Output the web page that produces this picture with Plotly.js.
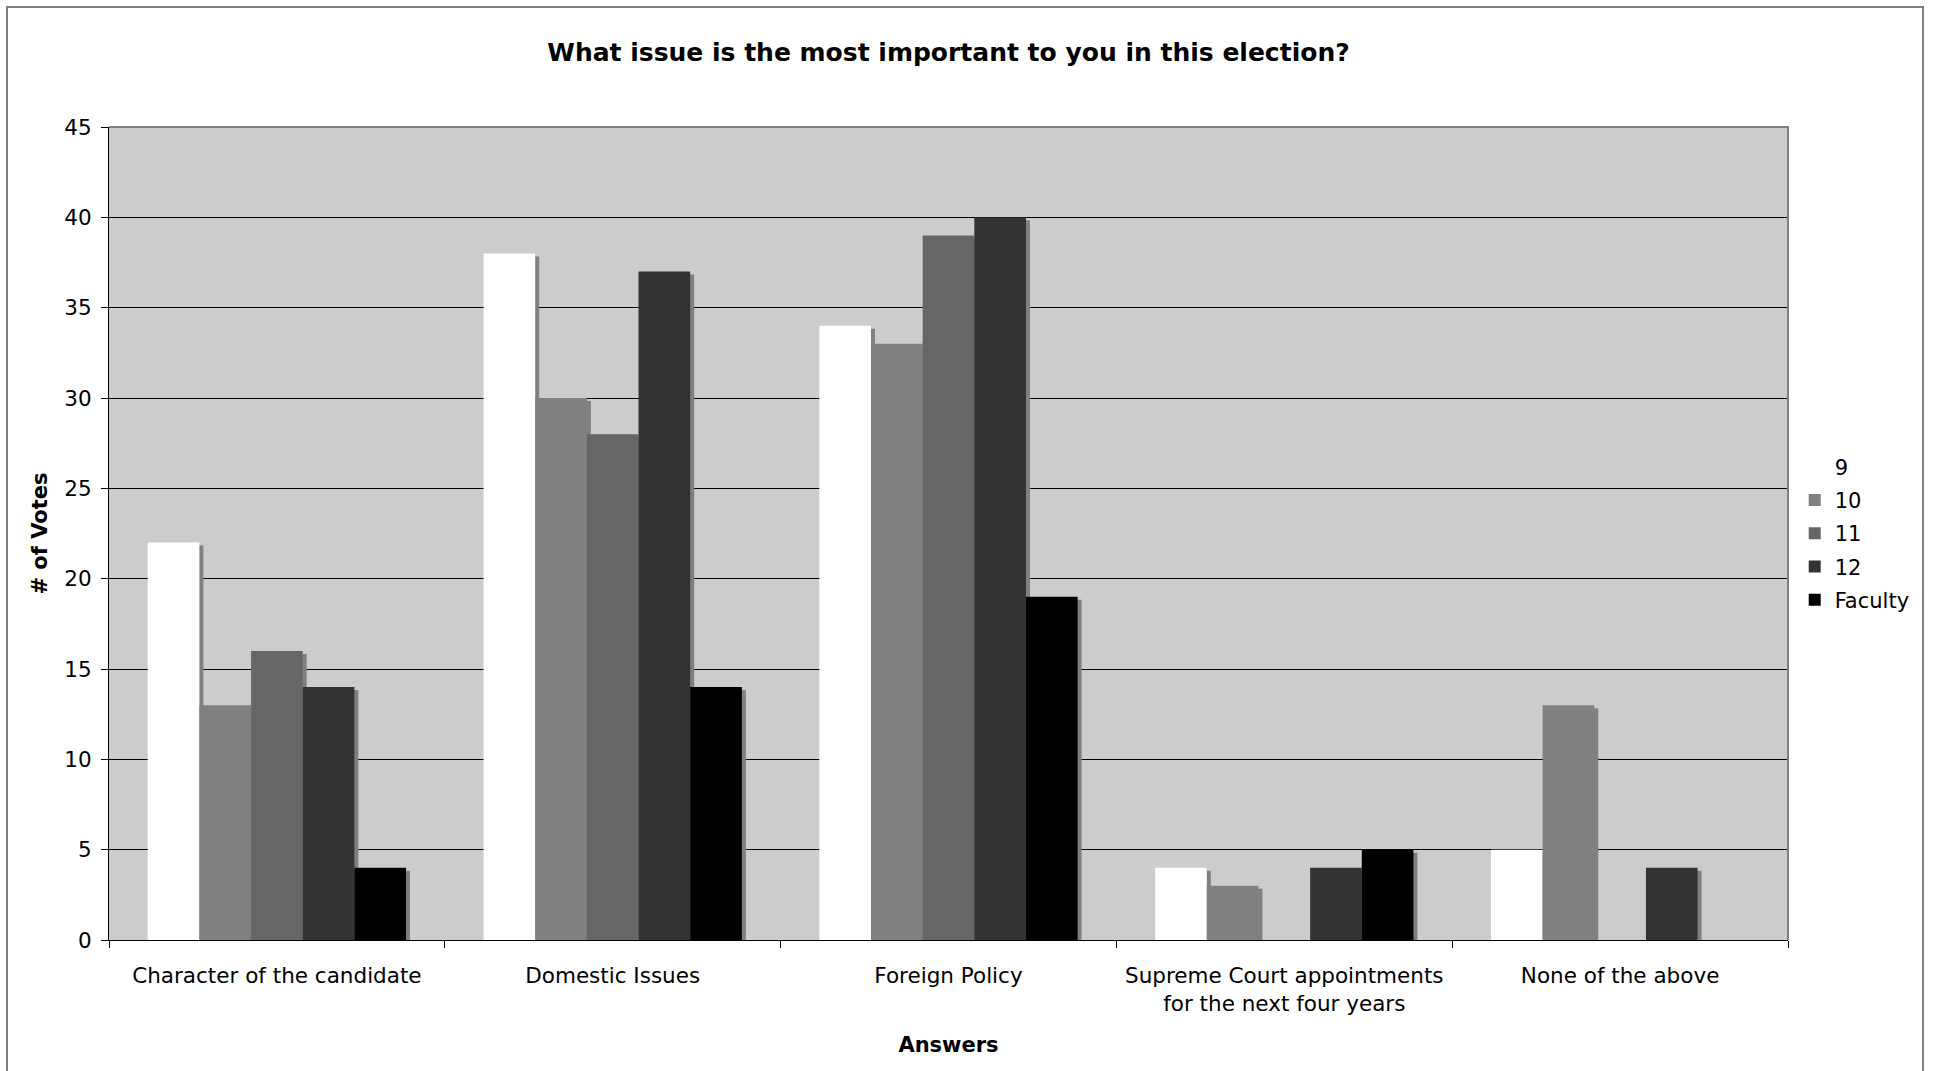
<!DOCTYPE html>
<html>
<head>
<meta charset="utf-8">
<script src="https://cdn.plot.ly/plotly-3.0.1.min.js"></script>
<style>
  html, body { margin: 0; padding: 0; background: #ffffff; overflow: hidden; }
  #chart { position: absolute; left: 0; top: 0; width: 1936px; height: 1071px; }
  #frame { position: absolute; left: 6px; top: 6px; width: 1914px; height: 1100px;
           border: 2px solid #7f7f7f; pointer-events: none; }
</style>
</head>
<body>
<div id="chart"></div>
<div id="frame"></div>
<script>
// ---- data ----
const categories = [
  "Character of the candidate",
  "Domestic Issues",
  "Foreign Policy",
  "Supreme Court appointments<br>for the next four years",
  "None of the above"
];
const seriesNames = ["9", "10", "11", "12", "Faculty"];
const grade9  = [22, 38, 34, 4, 5];
const grade10 = [13, 30, 33, 3, 13];
const grade11 = [16, 28, 39, 0, 0];
const grade12 = [14, 37, 40, 4, 4];
const faculty = [4, 14, 19, 5, 0];
const yTicks = [0, 5, 10, 15, 20, 25, 30, 35, 40, 45];

// ---- styling ----
const seriesValues = [grade9, grade10, grade11, grade12, faculty];
const seriesColors = ["#ffffff", "#808080", "#666666", "#333333", "#000000"];
const shadowColor = "#808080";
const FONT = "DejaVu Sans, Verdana, sans-serif";

const W = 1936, H = 1071;
const margin = { l: 109, r: 148, t: 127, b: 131 };
const plotW = W - margin.l - margin.r;
const plotH = H - margin.t - margin.b;
const yMax = 45;

const gapFrac = 1.5 / 6.5;                 // Excel gap width 150%
const barW = (1 - gapFrac) / seriesNames.length;
const dxUnits = 4 / (plotW / categories.length);  // shadow shift right (px -> category units)
const dyUnits = 3 * yMax / plotH;                 // shadow shift down (px -> value units)

const traces = [];
// shadows first
seriesValues.forEach((vals, i) => {
  traces.push({
    type: "bar",
    x: categories,
    y: vals,
    base: vals.map(() => -dyUnits),
    width: barW,
    offset: -0.5 + gapFrac / 2 + i * barW + dxUnits,
    marker: { color: shadowColor, line: { width: 0 } },
    showlegend: false,
    hoverinfo: "skip"
  });
});
// main bars
seriesValues.forEach((vals, i) => {
  traces.push({
    type: "bar",
    name: seriesNames[i],
    x: categories,
    y: vals,
    width: barW,
    offset: -0.5 + gapFrac / 2 + i * barW,
    legendgroup: "g" + i,
    marker: { color: seriesColors[i], line: { width: 0 } }
  });
});

const layout = {
  width: W,
  height: H,
  margin: margin,
  paper_bgcolor: "#ffffff",
  plot_bgcolor: "#cccccc",
  barmode: "overlay",
  font: { family: FONT, size: 21, color: "#000000" },
  title: {
    text: "<b>What issue is the most important to you in this election?</b>",
    font: { family: FONT, size: 25, color: "#000000" },
    xref: "paper", x: 0.5, xanchor: "center",
    yref: "container", y: 1 - 52 / H, yanchor: "middle"
  },
  xaxis: {
    type: "category",
    categoryorder: "array",
    categoryarray: categories,
    range: [-0.5, categories.length - 0.5],
    tickson: "boundaries",
    ticks: "outside",
    ticklen: 7,
    tickcolor: "#000000",
    ticklabelstandoff: 16,
    showline: true,
    linecolor: "#000000",
    linewidth: 1,
    showgrid: false,
    tickfont: { family: FONT, size: 21.5, color: "#000000" },
    title: { text: "<b>Answers</b>", font: { family: FONT, size: 21, color: "#000000" }, standoff: 22 }
  },
  yaxis: {
    range: [0, yMax],
    tickvals: yTicks,
    ticktext: yTicks.map(String),
    ticks: "outside",
    ticklen: 7,
    tickcolor: "#000000",
    ticklabelstandoff: 5,
    showline: true,
    linecolor: "#000000",
    linewidth: 1,
    showgrid: true,
    gridcolor: "#000000",
    gridwidth: 1,
    zeroline: false,
    tickfont: { family: FONT, size: 21.5, color: "#000000" },
    title: { text: "<b># of Votes</b>", font: { family: FONT, size: 21, color: "#000000" }, standoff: 10 }
  },
  legend: {
    x: 1.004, xanchor: "left",
    y: 0.5, yanchor: "middle",
    bgcolor: "rgba(0,0,0,0)",
    borderwidth: 0,
    tracegroupgap: 3,
    font: { family: FONT, size: 21, color: "#000000" }
  },
  shapes: [{
    type: "path",
    xref: "paper", yref: "paper",
    path: "M0,1 L1,1 L1,0",
    line: { color: "#808080", width: 2 },
    layer: "above"
  }],
  showlegend: true
};

Plotly.newPlot("chart", traces, layout, { displayModeBar: false, staticPlot: true });
</script>
</body>
</html>
